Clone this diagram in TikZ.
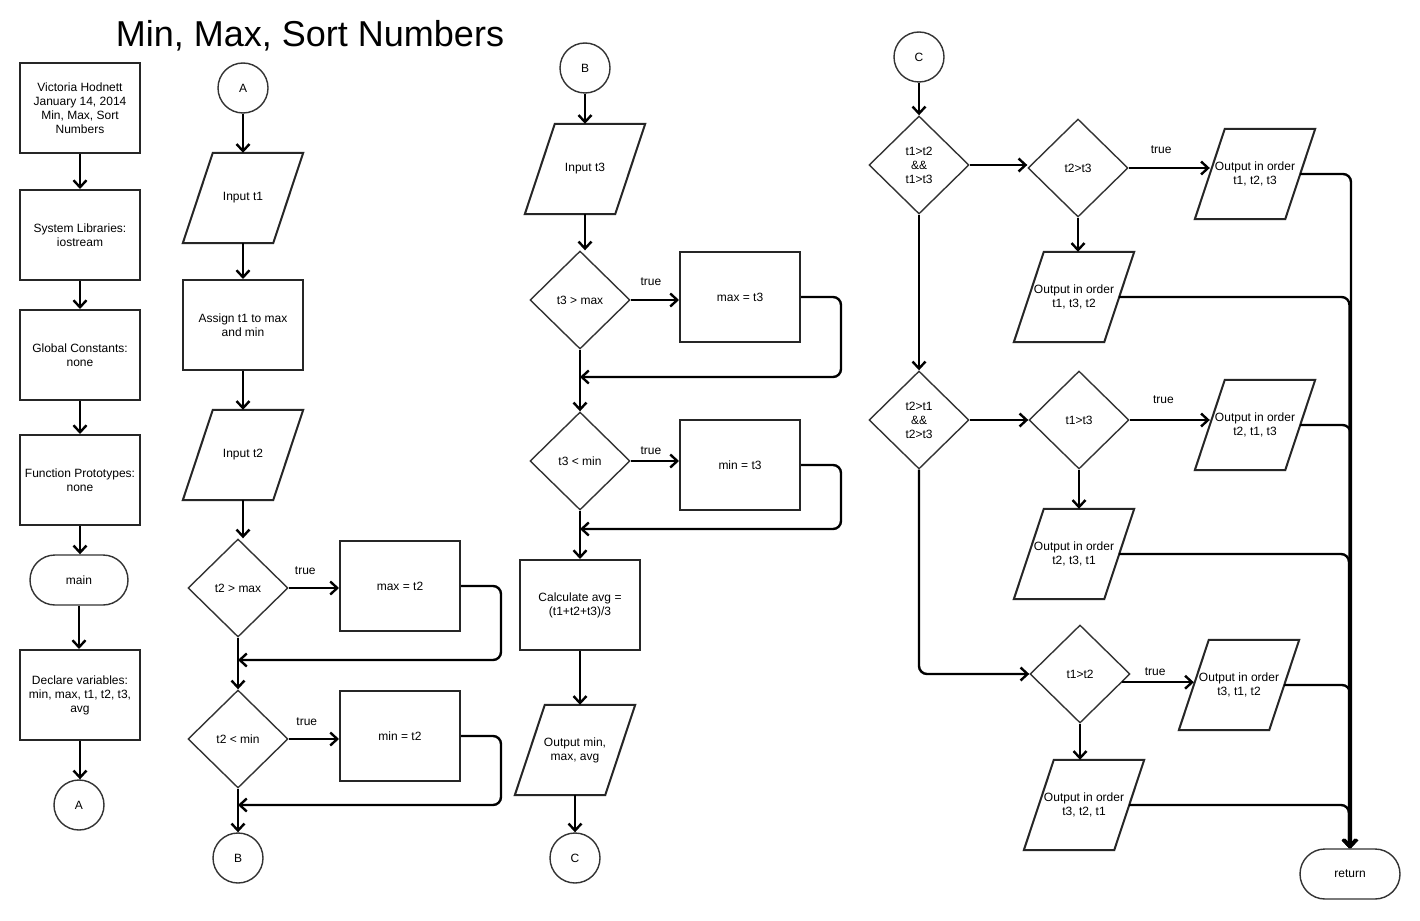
\documentclass[tikz,border=0pt]{standalone}
\usepackage{fontspec}
\setmainfont{Liberation Sans}
\usetikzlibrary{shapes.geometric,arrows.meta,calc}

\newcommand{\mypara}[4]{%
  \node[ptext] (#1) at (#2,#3) {#4};
  \draw[pbox] ([xshift=30pt]#1.north west) -- (#1.north east) -- ([xshift=-30pt]#1.south east) -- (#1.south west) -- cycle;
  \coordinate (#1w) at ([xshift=15pt]#1.west);
  \coordinate (#1e) at ([xshift=-15pt]#1.east);
}

\tikzset{
  every node/.style={font=\fontsize{12}{14}\selectfont, align=center, text=black},
  rbox/.style={draw=black!85, line width=2pt, minimum width=120pt, minimum height=90pt, inner sep=2pt},
  ptext/.style={minimum width=120pt, minimum height=90pt, inner sep=0pt},
  pbox/.style={draw=black!85, line width=2pt, line join=miter},
  dec/.style={diamond, draw=black!80, line width=1.4pt, minimum width=100pt, minimum height=98pt, inner sep=0pt},
  conn/.style={circle, draw=black!80, line width=1.4pt, minimum size=50pt, inner sep=0pt},
  term/.style={draw=black!80, line width=1.4pt, rounded corners=25pt, minimum width=98pt, minimum height=50pt, inner sep=0pt},
  arr/.style={draw=black, line width=2.4pt, -{Straight Barb[length=7pt,width=13pt]}},
  lbl/.style={font=\fontsize{12}{14}\selectfont, inner sep=0pt},
}

\begin{document}
\begin{tikzpicture}[x=1pt,y=-1pt]
\useasboundingbox[fill=white] (0,0) rectangle (1420,920);

\node[font=\fontsize{36}{40}\selectfont, anchor=base, inner sep=0pt] (title) at (310,47) {Min, Max, Sort Numbers};

% ---------- column 1 ----------
\node[rbox] (n1) at (80,108) {Victoria Hodnett\\January 14, 2014\\Min, Max, Sort\\Numbers};
\node[rbox] (n2) at (80,235) {System Libraries:\\iostream};
\node[rbox] (n3) at (80,355) {Global Constants:\\none};
\node[rbox] (n4) at (80,480) {Function Prototypes:\\none};
\node[term] (nmain) at (79,580) {main};
\node[rbox] (n5) at (80,695) {Declare variables:\\min, max, t1, t2, t3,\\avg};
\node[conn] (cA1) at (79,805) {A};

\draw[arr] (n1.south) -- (n2.north);
\draw[arr] (n2.south) -- (n3.north);
\draw[arr] (n3.south) -- (n4.north);
\draw[arr] (n4.south) -- (n4.south |- nmain.north);
\draw[arr] (nmain.south) -- (nmain.south |- n5.north);
\draw[arr] (n5.south) -- (n5.south |- cA1.north);

% ---------- column 2 ----------
\node[conn] (cA2) at (243,88) {A};
\mypara{p1}{243}{198}{Input t1}
\node[rbox] (r1) at (243,325) {Assign t1 to max\\and min};
\mypara{p2}{243}{455}{Input t2}
\node[dec] (d1) at (238,588) {t2 > max};
\node[rbox] (b1) at (400,586) {max = t2};
\node[dec] (d2) at (238,739) {t2 < min};
\node[rbox] (b2) at (400,736) {min = t2};
\node[conn] (cB1) at (238,858) {B};

\draw[arr] (cA2.south) -- (p1.north);
\draw[arr] (p1.south) -- (r1.north);
\draw[arr] (r1.south) -- (p2.north);
\draw[arr] (p2.south) -- (p2.south |- d1.north);
\draw[arr] (d1.east) -- node[lbl, pos=0.33, above=12pt] {true} (d1.east -| b1.west);
\draw[arr, rounded corners=8pt] (b1.east) -- ++(40,0) |- (d1.south |- 0,660);
\draw[arr] (d1.south) -- (d2.north);
\draw[arr] (d2.east) -- node[lbl, pos=0.36, above=12pt] {true} (d2.east -| b2.west);
\draw[arr, rounded corners=8pt] (b2.east) -- ++(40,0) |- (d2.south |- 0,805);
\draw[arr] (d2.south) -- (cB1.north);

% ---------- column 3 ----------
\node[conn] (cB2) at (585,68) {B};
\mypara{p3}{585}{169}{Input t3}
\node[dec] (d3) at (580,300) {t3 > max};
\node[rbox] (b3) at (740,297) {max = t3};
\node[dec] (d4) at (580,461) {t3 < min};
\node[rbox] (b4) at (740,465) {min = t3};
\node[rbox] (r2) at (580,605) {Calculate avg =\\(t1+t2+t3)/3};
\mypara{p4}{575}{750}{Output min,\\max, avg}
\node[conn] (cC1) at (575,858) {C};

\draw[arr] (cB2.south) -- (p3.north);
\draw[arr] (p3.south) -- (p3.south |- d3.north);
\draw[arr] (d3.east) -- node[lbl, pos=0.42, above=13pt] {true} (d3.east -| b3.west);
\draw[arr, rounded corners=8pt] (b3.east) -- ++(40,0) |- (d3.south |- 0,377);
\draw[arr] (d3.south) -- (d4.north);
\draw[arr] (d4.east) -- node[lbl, pos=0.42, above=5pt] {true} (d4.east -| b4.west);
\draw[arr, rounded corners=8pt] (b4.east) -- ++(40,0) |- (d4.south |- 0,529);
\draw[arr] (d4.south) -- (r2.north);
\draw[arr] (r2.south) -- (r2.south |- p4.north);
\draw[arr] (p4.south) -- (cC1.north);

% ---------- column 4 ----------
\node[conn] (cC2) at (919,57) {C};
\node[dec] (D1) at (919,165) {t1>t2\\\&\&\\t1>t3};
\node[dec] (D2) at (1078,168) {t2>t3};
\mypara{O1}{1255}{174}{Output in order\\t1, t2, t3}
\mypara{O2}{1074}{297}{Output in order\\t1, t3, t2}
\node[dec] (D3) at (919,420) {t2>t1\\\&\&\\t2>t3};
\node[dec] (D4) at (1079,420) {t1>t3};
\mypara{O3}{1255}{425}{Output in order\\t2, t1, t3}
\mypara{O4}{1074}{554}{Output in order\\t2, t3, t1}
\node[dec] (D5) at (1080,674) {t1>t2};
\mypara{O5}{1239}{685}{Output in order\\t3, t1, t2}
\mypara{O6}{1084}{805}{Output in order\\t3, t2, t1}
\node[term, minimum width=100pt] (ret) at (1350,874) {return};

\draw[arr] (cC2.south) -- (D1.north);
\draw[arr] (D1.east) -- (D1.east -| D2.west);
\draw[arr] (D2.east) -- node[lbl, pos=0.4, above=13pt] {true} (D2.east -| O1w);
\draw[arr] (D2.south) -- (D2.south |- O2.north);
\draw[arr] (D1.south) -- (D3.north);
\draw[arr] (D3.east) -- (D3.east -| D4.west);
\draw[arr] (D4.east) -- node[lbl, pos=0.42, above=15pt] {true} (D4.east -| O3w);
\draw[arr] (D4.south) -- (D4.south |- O4.north);
\draw[arr, rounded corners=8pt] (D3.south) |- (D5.west);
\draw[arr] (D5.-11) -- node[lbl, pos=0.46, above=5pt] {true} (D5.-11 -| O5w);
\draw[arr] (D5.south) -- (D5.south |- O6.north);

\draw[arr, rounded corners=8pt] (O1e) -| ([xshift=1pt]ret.north);
\draw[arr, rounded corners=8pt] (O2e) -| ([xshift=-0.5pt]ret.north);
\draw[arr, rounded corners=8pt] (O3e) -| ([xshift=0.5pt]ret.north);
\draw[arr, rounded corners=8pt] (O4e) -| ([xshift=-1pt]ret.north);
\draw[arr, rounded corners=8pt] (O5e) -| (ret.north);
\draw[arr, rounded corners=8pt] (O6e) -| ([xshift=-1pt]ret.north);
\end{tikzpicture}
\end{document}
